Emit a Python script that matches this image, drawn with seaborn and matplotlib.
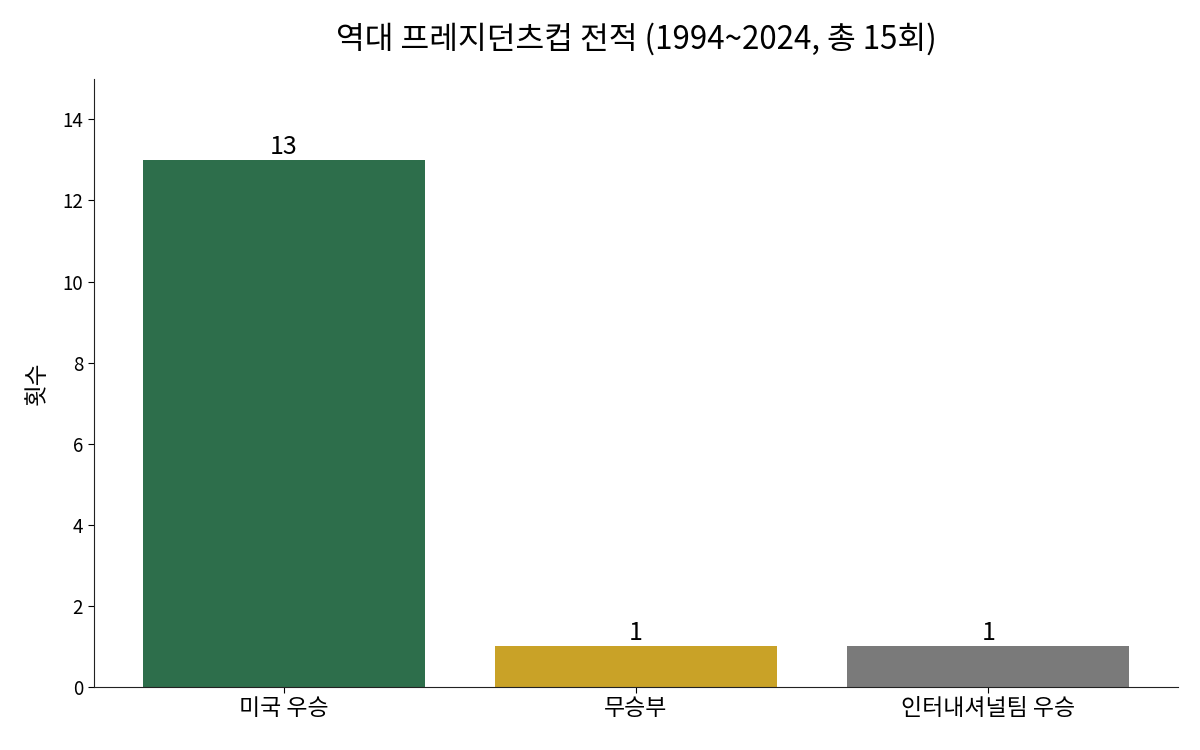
import matplotlib
matplotlib.use("Agg")
import matplotlib.pyplot as plt
import seaborn as sns
import pandas as pd

# 데이터
categories = ["미국 우승", "무승부", "인터내셔널팀 우승"]
counts = [13, 1, 1]
colors = ["#2d6e4b", "#c9a227", "#7a7a7a"]

sns.set_style("white")
plt.rcParams['font.family'] = ['Noto Sans CJK KR', 'DejaVu Sans']
plt.rcParams['text.color'] = 'black'
plt.rcParams['xtick.color'] = 'black'
plt.rcParams['ytick.color'] = 'black'
plt.rcParams['axes.labelcolor'] = 'black'

df = pd.DataFrame({"result": categories, "count": counts})

fig, ax = plt.subplots(figsize=(12, 7.5), dpi=100)
sns.barplot(data=df, x="result", y="count", hue="result", palette=colors,
            legend=False, width=0.8, saturation=1, linewidth=0, ax=ax)

for i, v in enumerate(counts):
    ax.text(i, v, str(v), ha="center", va="bottom", fontsize=18)

ax.set_ylim(0, 15)
ax.set_xlim(-0.54, 2.54)
ax.set_xlabel("")
ax.set_ylabel("횟수", fontsize=17, labelpad=10)
ax.set_title("역대 프레지던츠컵 전적 (1994~2024, 총 15회)", fontsize=22.5, pad=22)
ax.tick_params(axis="x", labelsize=16.5, length=4, bottom=True)
ax.tick_params(axis="y", labelsize=13.5, length=4, left=True)
sns.despine(ax=ax)
for s in ["left", "bottom"]:
    ax.spines[s].set_color("#222222")

plt.subplots_adjust(left=0.078, right=0.982, top=0.895, bottom=0.084)
plt.savefig("out.png", dpi=100)
